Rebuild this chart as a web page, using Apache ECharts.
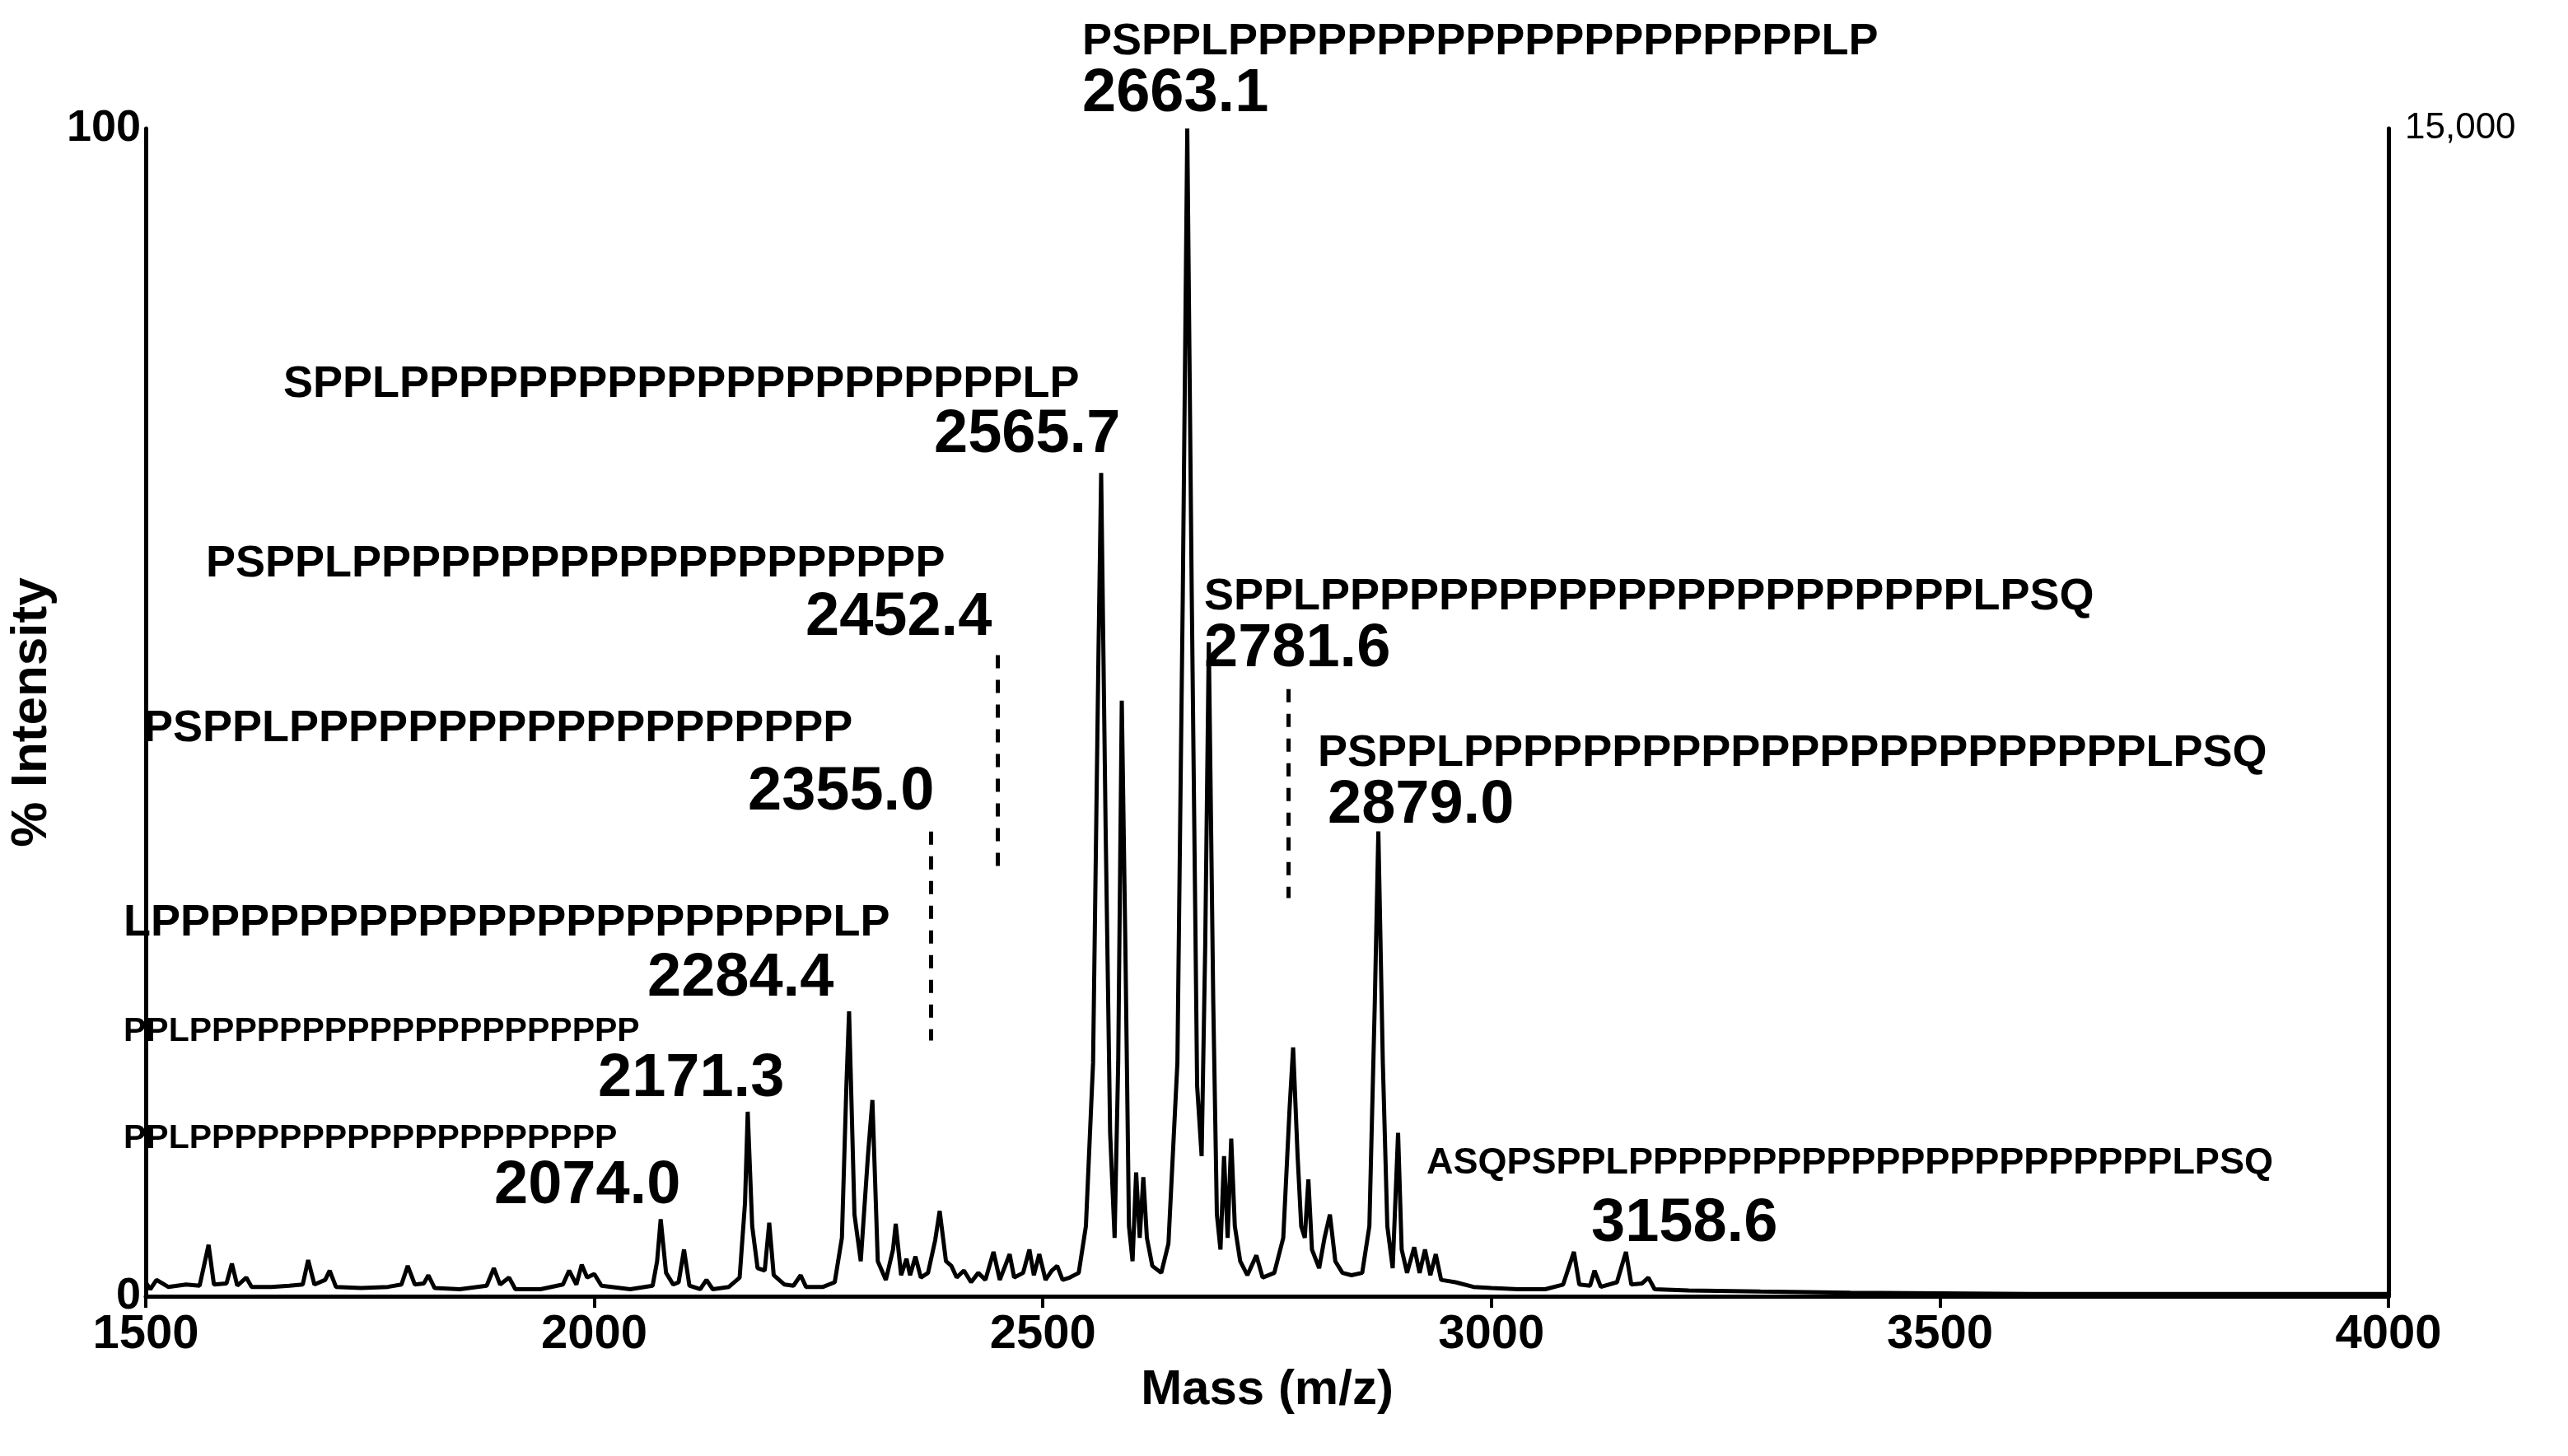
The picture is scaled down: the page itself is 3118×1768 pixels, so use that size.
<!DOCTYPE html>
<html><head><meta charset="utf-8">
<script src="https://cdn.jsdelivr.net/npm/echarts@6/dist/echarts.min.js"></script>
<style>html,body{margin:0;background:#fff}#c{width:3118px;height:1768px}</style>
</head><body><div id="c"></div>
<script>
// spectrum samples: [mass, % intensity]
var spectrum = [
  [1500,1.2],[1505,0.6],[1512,1.4],[1525,0.8],[1545,1.0],[1560,0.9],[1570,4.4],[1576,1.0],
  [1590,1.1],[1596,2.8],[1602,0.9],[1612,1.6],[1618,0.8],[1640,0.8],[1660,0.9],[1675,1.0],
  [1681,3.1],[1688,1.0],[1700,1.4],[1705,2.2],[1712,0.8],[1740,0.7],[1770,0.8],[1785,1.0],
  [1792,2.6],[1800,1.0],[1810,1.1],[1815,1.8],[1822,0.7],[1850,0.6],[1880,0.9],[1888,2.4],
  [1895,1.0],[1905,1.6],[1912,0.6],[1940,0.6],[1965,1.0],[1972,2.2],[1980,1.0],[1986,2.7],
  [1992,1.6],[2000,1.9],[2008,0.9],[2040,0.6],[2065,0.9],[2070,3.0],[2074,6.6],[2080,2.0],
  [2088,1.0],[2094,1.2],[2100,4.0],[2106,0.9],[2118,0.6],[2125,1.4],[2132,0.6],[2150,0.8],
  [2162,1.6],[2168,8.0],[2171,15.8],[2176,6.0],[2182,2.4],[2190,2.2],[2195,6.3],[2200,1.8],
  [2212,1.0],[2222,0.9],[2230,1.8],[2236,0.8],[2255,0.8],[2268,1.2],[2276,5.0],[2281,18.0],
  [2284,24.4],[2290,7.0],[2297,3.0],[2305,12.0],[2310,16.8],[2316,3.0],[2325,1.4],[2333,4.0],
  [2336,6.2],[2342,1.8],[2348,3.2],[2352,1.8],[2358,3.4],[2364,1.6],[2372,2.0],[2380,4.8],
  [2385,7.3],[2392,3.0],[2398,2.6],[2404,1.6],[2412,2.2],[2420,1.2],[2428,2.0],[2436,1.4],
  [2445,3.8],[2452,1.4],[2458,2.6],[2463,3.6],[2468,1.6],[2478,2.0],[2485,4.0],[2490,1.8],
  [2496,3.6],[2503,1.4],[2510,2.2],[2516,2.6],[2522,1.4],[2530,1.6],[2540,2.0],[2548,6.0],
  [2556,20.0],[2562,55.0],[2565,70.5],[2570,40.0],[2575,14.0],[2580,5.0],[2584,20.0],[2588,51.0],
  [2592,30.0],[2596,6.0],[2600,3.0],[2604,10.6],[2608,5.0],[2612,10.2],[2616,5.0],[2622,2.6],
  [2632,2.0],[2640,4.5],[2650,20.0],[2656,60.0],[2661,100],[2666,60.0],[2672,18.0],[2677,12.0],
  [2681,30.0],[2685,56.0],[2690,25.0],[2694,7.0],[2698,4.0],[2702,12.0],[2706,5.0],[2710,13.5],
  [2714,6.0],[2720,3.0],[2728,1.8],[2738,3.5],[2745,1.6],[2758,2.0],[2768,5.0],[2775,16.0],
  [2779,21.3],[2784,12.0],[2788,6.0],[2792,5.0],[2796,10.0],[2800,4.0],[2808,2.4],[2814,5.0],
  [2820,7.0],[2826,3.0],[2834,2.0],[2844,1.8],[2856,2.0],[2864,6.0],[2870,25.0],[2874,39.8],
  [2879,20.0],[2884,6.0],[2890,2.4],[2896,14.0],[2900,4.0],[2906,2.0],[2914,4.2],[2920,2.0],
  [2926,4.0],[2932,1.8],[2938,3.6],[2944,1.4],[2960,1.2],[2980,0.8],[3000,0.7],[3030,0.6],
  [3060,0.6],[3080,1.0],[3092,3.8],[3098,1.0],[3110,0.9],[3115,2.2],[3122,0.8],[3140,1.2],
  [3150,3.8],[3156,1.0],[3168,1.1],[3175,1.6],[3182,0.6],[3220,0.5],[3300,0.4],[3400,0.3],
  [3600,0.2],[3800,0.2],[4000,0.2]
];
var xTicks = [1500, 2000, 2500, 3000, 3500, 4000];
// dashed guide lines: [mass, from, to] in % intensity
var guides = [[2375, 39.8, 21.9], [2450, 54.9, 36.7], [2774, 52.0, 34.1]];
// annotations: [text, left px, top px, font size]
var labels = [
  ['PSPPLPPPPPPPPPPPPPPPPPPPPLP', 1314, 24, 54], ['2663.1', 1314, 78, 74],
  ['SPPLPPPPPPPPPPPPPPPPPPPPPLP', 344, 440, 54], ['2565.7', 1134, 492, 74],
  ['PSPPLPPPPPPPPPPPPPPPPPPPP', 250, 658, 54], ['2452.4', 978, 714, 74],
  ['PSPPLPPPPPPPPPPPPPPPPPPP', 174, 858, 54], ['2355.0', 908, 926, 74],
  ['LPPPPPPPPPPPPPPPPPPPPPPPLP', 150, 1094, 54], ['2284.4', 786, 1152, 74],
  ['PPLPPPPPPPPPPPPPPPPPPPP', 150, 1232, 41], ['2171.3', 726, 1274, 74],
  ['PPLPPPPPPPPPPPPPPPPPPP', 150, 1362, 41], ['2074.0', 600, 1404, 74],
  ['SPPLPPPPPPPPPPPPPPPPPPPPPPLPSQ', 1462, 698, 54], ['2781.6', 1462, 752, 74],
  ['PSPPLPPPPPPPPPPPPPPPPPPPPPPPLPSQ', 1600, 888, 54], ['2879.0', 1612, 942, 74],
  ['ASQPSPPLPPPPPPPPPPPPPPPPPPPPPPLPSQ', 1732, 1390, 45], ['3158.6', 1932, 1450, 74]
];

var chart = echarts.init(document.getElementById('c'));
var font = 'Liberation Sans, Arial, sans-serif';
chart.setOption({
  animation: false,
  grid: {left: 136, right: 218, top: 156, bottom: 194},
  xAxis: {
    type: 'value', min: 1500, max: 4000, interval: 500,
    name: 'Mass (m/z)', nameLocation: 'middle', nameGap: 84,
    nameTextStyle: {fontSize: 60, fontWeight: 'bold', color: '#000', fontFamily: font},
    axisLine: {lineStyle: {color: '#000', width: 5}},
    axisTick: {show: true, length: 14, lineStyle: {width: 4, color: '#000'}},
    axisLabel: {fontSize: 58, fontWeight: 'bold', color: '#000', fontFamily: font, margin: 18,
      formatter: function (v) { return String(v); }},
    splitLine: {show: false}
  },
  yAxis: [{
    type: 'value', min: 0, max: 100, interval: 100,
    name: '% Intensity', nameLocation: 'middle', nameGap: 72, nameRotate: 90,
    nameTextStyle: {fontSize: 62, fontWeight: 'bold', color: '#000', fontFamily: font},
    axisLine: {show: true, lineStyle: {color: '#000', width: 5}},
    axisTick: {show: false},
    axisLabel: {fontSize: 54, fontWeight: 'bold', color: '#000', fontFamily: font, margin: 6},
    splitLine: {show: false}
  }, {
    type: 'value', min: 0, max: 15000, interval: 15000, position: 'right',
    axisLine: {show: true, lineStyle: {color: '#000', width: 5}},
    axisTick: {show: false},
    axisLabel: {fontSize: 44, color: '#000', fontFamily: font, margin: 20,
      formatter: function (v) { return v === 15000 ? '15,000' : ''; }},
    splitLine: {show: false}
  }],
  series: [{
    type: 'line', data: spectrum, showSymbol: false, symbol: 'none',
    lineStyle: {color: '#000', width: 5},
    markLine: {
      symbol: 'none', silent: true, label: {show: false},
      lineStyle: {color: '#000', width: 5, type: [16, 14]},
      data: guides.map(function (g) { return [{coord: [g[0], g[1]]}, {coord: [g[0], g[2]]}]; })
    }
  }],
  graphic: labels.map(function (l) {
    return {type: 'text', left: l[1], top: l[2], silent: true,
      style: {text: l[0], fontSize: l[3], fontWeight: 'bold', fill: '#000', fontFamily: font}};
  })
});
</script></body></html>
